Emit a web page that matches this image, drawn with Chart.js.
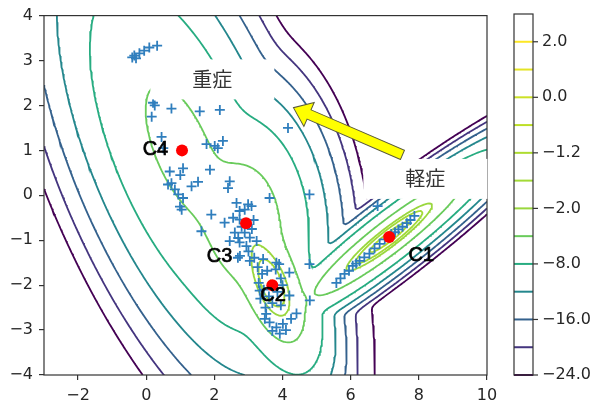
<!DOCTYPE html>
<html>
<head>
<meta charset="utf-8">
<script src="https://cdn.jsdelivr.net/npm/chart.js@4.4.1/dist/chart.umd.min.js"></script>
<style>
  html, body { margin: 0; padding: 0; background: #fff; }
</style>
</head>
<body>
<canvas id="c" width="596" height="402"></canvas>
<script>
// ===== samples (blue crosses)
const ptX = [
  -0.41, -0.35, -0.30, -0.20, -0.06, 0.09, 0.32, 0.20, 0.25, 0.16, 0.74, 1.57, 2.16, 4.16, 0.45, 0.50, 1.77, 2.01,
  2.25, 2.10, 0.69, 1.08, 1.00, 1.87, 0.74, 0.64, 0.84, 1.33, 1.52, 0.94, 1.08, 1.04, 0.99, 2.45, 2.40,
  1.91, 1.62, 2.30, 2.65, 2.74, 2.89, 3.09, 2.99, 2.55, 2.74, 2.60, 2.89, 3.04, 3.24, 2.45, 2.74, 2.94, 2.69,
  3.04, 3.43, 3.62, 4.79, 3.82, 4.79, 2.80, 3.10, 2.70, 3.00, 3.15,
  2.75, 3.17, 3.27, 3.40, 3.55, 3.80, 3.90, 3.95, 4.20, 3.30, 3.45, 3.60, 3.85, 4.00, 3.35, 3.70, 3.50, 3.95,
  4.20, 4.41, 4.80, 3.52, 3.62, 3.82, 4.01, 3.92, 3.70, 4.10, 4.25, 3.48, 3.33,
  5.58, 5.70, 5.82, 5.95, 6.06, 6.16, 6.26, 6.40, 6.55, 6.70, 6.85, 7.00, 7.19, 7.30, 7.40, 7.52, 7.65, 7.75,
  7.87, 6.79
];
const ptY = [
  3.07, 3.11, 3.05, 3.16, 3.22, 3.29, 3.33, 2.06, 2.00, 1.75, 1.93, 1.87, 1.90, 1.50, 1.30, 1.05, 1.14, 1.10,
  1.21, 1.05, 0.53, 0.60, 0.45, 0.57, 0.27, 0.24, 0.13, 0.20, 0.30, 0.02, -0.06, -0.32, -0.25, 0.31, 0.16,
  -0.43, -0.80, -0.61, -0.17, -0.35, -0.32, -0.24, -0.20, -0.50, -0.54, -0.83, -0.83, -0.94, -1.02, -1.02, -1.05, -1.13, -1.39,
  -1.46, -1.42, -0.06, 0.02, -1.50, -1.53, -0.70, -0.75, -0.95, -1.25, -0.55,
  -1.35, -1.39, -1.60, -1.75, -1.68, -1.65, -1.53, -1.85, -1.72, -1.95, -2.10, -2.25, -2.15, -2.00, -2.30, -2.40, -2.50, -2.45,
  -2.23, -2.63, -2.34, -2.64, -2.83, -2.94, -2.86, -3.08, -3.02, -3.00, -2.75, -2.75, -2.12,
  -1.95, -1.85, -1.75, -1.68, -1.57, -1.52, -1.46, -1.38, -1.30, -1.18, -1.08, -0.98, -0.86, -0.82, -0.76, -0.70, -0.62, -0.55,
  -0.46, -0.24
];

// ===== cluster centres (red dots) and their labels
const centreNames = ['C1', 'C2', 'C3', 'C4'];
const centreX = [7.13, 3.70, 2.93, 1.05];
const centreY = [-0.93, -2.00, -0.62, 1.00];
const labelX = [8.07, 3.72, 2.15, 0.27];
const labelY = [-1.35, -2.23, -1.36, 1.03];

// ===== mixture components behind the contour lines
const compW   = [0.38, 0.35, 0.22, 0.20];
const compMx  = [7.13, 3.70, 2.93, 1.05];
const compMy  = [-0.93, -2.00, -0.62, 1.00];
const compSxx = [0.786, 0.16, 0.3025, 0.772];
const compSxy = [0.439, -0.108, -0.0385, -0.648];
const compSyy = [0.279, 0.2916, 0.49, 1.44];

// contour levels and ticks
const levels = [-24, -20, -16, -12, -8, -4, -2, -1.6, -1.2, -0.6, 0, 1, 2];
const cbTicks = [2, 0, -1.2, -2, -8, -16, -24];
const xTicks = [-2, 0, 2, 4, 6, 8, 10];
const yTicks = [-4, -3, -2, -1, 0, 1, 2, 3, 4];

// annotations
const noteText = ['重症', '軽症'];
const noteX = [1.94, 8.19];
const noteY = [2.58, 0.365];
const arrowFrom = [7.52, 0.90];
const arrowTo = [4.32, 1.95];

//viridis
const viridisStops = ['#440154', '#482475', '#414487', '#355f8d', '#2a788e', '#21918c',
  '#22a884', '#44bf70', '#7ad151', '#bddf26', '#fde725'];
const hexRgb = (h) => [1, 3, 5].map(i => parseInt(h.substr(i, 2), 16));
const viridis = (t) => {
    t = Math.min(1, Math.max(0, t));
    const f = t * 10, i = Math.min(9, Math.floor(f)), r = f - i;
    const a = hexRgb(viridisStops[i]), b = hexRgb(viridisStops[i + 1]);
    return 'rgb(' + a.map((v, k) => Math.round(v + (b[k] - v) * r)).join(',') + ')';
}
const levelColor = (L) => viridis((L - levels[0]) / (levels[levels.length - 1] - levels[0]));

// log density of the mixture (log-sum-exp)
const logDensity = (x, y) => {
    const terms = compW.map((w, k) => {
        const dx = x - compMx[k], dy = y - compMy[k];
        const det = compSxx[k] * compSyy[k] - compSxy[k] * compSxy[k];
        const q = (compSyy[k] * dx * dx - 2 * compSxy[k] * dx * dy + compSxx[k] * dy * dy) / det;
        return Math.log(w) - Math.log(2 * Math.PI * Math.sqrt(det)) - 0.5 * q;
    });
    const m = Math.max(...terms);
    return m + Math.log(terms.reduce((s, t) => s + Math.exp(t - m), 0));
}

// grid
const nx = 261, ny = 161;
const gxs = [], gys = [];
for (let i = 0; i < nx; i++) gxs.push(-3 + 13 * i / (nx - 1));
for (let j = 0; j < ny; j++) gys.push(-4 + 8 * j / (ny - 1));
const grid = gys.map(y => gxs.map(x => logDensity(x, y)));

// marching squares + chaining into polylines
const traceLevel = (L) => {
    const segs = [];
    const cut = (id, x0, y0, x1, y1, v0, v1) => {
        const t = (L - v0) / (v1 - v0);
        return { id, x: x0 + (x1 - x0) * t, y: y0 + (y1 - y0) * t };
    };
    for (let j = 0; j < ny - 1; j++) {
        for (let i = 0; i < nx - 1; i++) {
            const a = grid[j][i], b = grid[j][i + 1], c = grid[j + 1][i + 1], d = grid[j + 1][i];
            const x0 = gxs[i], x1 = gxs[i + 1], y0 = gys[j], y1 = gys[j + 1];
            const bot = (a > L) !== (b > L) ? cut('h' + i + ',' + j, x0, y0, x1, y0, a, b) : null;
            const rgt = (b > L) !== (c > L) ? cut('v' + (i + 1) + ',' + j, x1, y0, x1, y1, b, c) : null;
            const top = (d > L) !== (c > L) ? cut('h' + i + ',' + (j + 1), x0, y1, x1, y1, d, c) : null;
            const lft = (a > L) !== (d > L) ? cut('v' + i + ',' + j, x0, y0, x0, y1, a, d) : null;
            const e = [bot, rgt, top, lft].filter(Boolean);
            if (e.length === 2) {
                segs.push([e[0], e[1]]);
            } else if (e.length === 4) {
                const centre = (a + b + c + d) / 4;
                if ((centre > L) === (a > L)) {
                    segs.push([bot, rgt], [top, lft]);
                } else {
                    segs.push([bot, lft], [rgt, top]);
                }
            }
        }
    }
    const byEdge = new Map();
    segs.forEach((s, k) => {
        s.forEach(p => {
            if (!byEdge.has(p.id)) byEdge.set(p.id, []);
            byEdge.get(p.id).push(k);
        });
    });
    const used = new Uint8Array(segs.length);
    const grow = (chain) => {
        while (true) {
            const last = chain[chain.length - 1];
            const k = (byEdge.get(last.id) || []).find(n => !used[n]);
            if (k === undefined) break;
            used[k] = 1;
            const s = segs[k];
            chain.push(s[0].id === last.id ? s[1] : s[0]);
        }
    };
    const chains = [];
    for (let k = 0; k < segs.length; k++) {
        if (used[k]) continue;
        used[k] = 1;
        let chain = [segs[k][0], segs[k][1]];
        grow(chain);
        chain.reverse();
        grow(chain);
        chains.push(chain.map(p => ({ x: p.x, y: p.y })));
    }
    return chains;
}

const datasets = [];
levels.forEach(L => {
    traceLevel(L).forEach(line => {
        datasets.push({
            data: line,
            showLine: true,
            pointRadius: 0,
            borderColor: levelColor(L),
            borderWidth: 1.8,
            tension: 0,
            order: 3
        });
    });
});
datasets.push({
    data: ptX.map((x, i) => ({ x: x, y: ptY[i] })),
    pointStyle: 'cross',
    pointRadius: 5,
    borderColor: '#2f7ebd',
    borderWidth: 1.8,
    order: 2
});
datasets.push({
    data: centreX.map((x, i) => ({ x: x, y: centreY[i] })),
    pointStyle: 'circle',
    pointRadius: 6,
    backgroundColor: '#ff0000',
    borderWidth: 0,
    order: 1
});

const minus = (s) => s.replace('-', '\u2212');
const tickFont = { family: 'DejaVu Sans', size: 16 };

// frame, labels, boxes, arrow and colorbar
const decor = {
    id: 'decor',
    afterDatasetsDraw(chart) {
        const { ctx, chartArea: a, scales } = chart;
        const px = (v) => scales.x.getPixelForValue(v), py = (v) => scales.y.getPixelForValue(v);
        ctx.save();
        ctx.strokeStyle = '#333';
        ctx.lineWidth = 1.2;
        ctx.strokeRect(a.left, a.top, a.right - a.left, a.bottom - a.top);
        // centre labels
        ctx.fillStyle = '#000';
        ctx.strokeStyle = '#000';
        ctx.lineWidth = 0.7;
        ctx.font = '20px "Liberation Sans", Arial, sans-serif';
        ctx.textAlign = 'center';
        ctx.textBaseline = 'middle';
        centreNames.forEach((n, i) => {
            ctx.fillText(n, px(labelX[i]), py(labelY[i]));
            ctx.strokeText(n, px(labelX[i]), py(labelY[i]));
        });
        // white boxes with the japanese notes
        noteText.forEach((t, i) => {
            const cx = px(noteX[i]), cy = py(noteY[i]);
            ctx.fillStyle = '#fff';
            ctx.fillRect(cx - 62, cy - 20, 124, 40);
            ctx.fillStyle = '#333';
            ctx.font = '20px "Noto Sans CJK JP", sans-serif';
            ctx.fillText(t, cx, cy);
        });
        // yellow arrow
        const x0 = px(arrowFrom[0]), y0 = py(arrowFrom[1]), x1 = px(arrowTo[0]), y1 = py(arrowTo[1]);
        const len = Math.hypot(x1 - x0, y1 - y0);
        ctx.translate(x0, y0);
        ctx.rotate(Math.atan2(y1 - y0, x1 - x0));
        ctx.beginPath();
        ctx.moveTo(0, -5);
        ctx.lineTo(len - 17, -5);
        ctx.lineTo(len - 17, -13);
        ctx.lineTo(len, 0);
        ctx.lineTo(len - 17, 13);
        ctx.lineTo(len - 17, 5);
        ctx.lineTo(0, 5);
        ctx.closePath();
        ctx.fillStyle = '#ffff00';
        ctx.fill();
        ctx.strokeStyle = '#5a5a3a';
        ctx.lineWidth = 1;
        ctx.stroke();
        ctx.restore();
    },
    afterDraw(chart) {
        const ctx = chart.ctx;
        const left = 514, right = 533, top = 14, bottom = 375;
        const step = (bottom - top) / levels.length;
        ctx.save();
        levels.forEach((L, i) => {
            const y = bottom - step * i;
            ctx.strokeStyle = levelColor(L);
            ctx.lineWidth = 2;
            ctx.beginPath();
            ctx.moveTo(left, y);
            ctx.lineTo(right, y);
            ctx.stroke();
            if (cbTicks.includes(L)) {
                ctx.strokeStyle = '#333';
                ctx.lineWidth = 1.2;
                ctx.beginPath();
                ctx.moveTo(right, y);
                ctx.lineTo(right + 5, y);
                ctx.stroke();
                ctx.fillStyle = '#262626';
                ctx.font = '16px "DejaVu Sans"';
                ctx.textAlign = 'left';
                ctx.textBaseline = 'middle';
                ctx.fillText(minus(L.toFixed(1)), right + 9, y);
            }
        });
        ctx.strokeStyle = '#333';
        ctx.lineWidth = 1.2;
        ctx.strokeRect(left, top, right - left, bottom - top);
        ctx.restore();
    }
};

new Chart(document.getElementById('c'), {
    type: 'scatter',
    data: { datasets: datasets },
    options: {
        responsive: false,
        animation: false,
        events: [],
        layout: { padding: { top: 14, right: 109, left: 0, bottom: 0 } },
        plugins: { legend: { display: false }, tooltip: { enabled: false } },
        scales: {
            x: {
                type: 'linear', min: -3, max: 10,
                afterBuildTicks: (s) => { s.ticks = xTicks.map(v => ({ value: v })); },
                afterFit: (s) => { s.height = 27; },
                grid: { drawOnChartArea: false, drawTicks: true, tickLength: 5, color: '#333', lineWidth: 1.2 },
                border: { display: false },
                ticks: { font: tickFont, color: '#262626', padding: 6, callback: (v) => minus(String(v)) }
            },
            y: {
                type: 'linear', min: -4, max: 4,
                afterBuildTicks: (s) => { s.ticks = yTicks.map(v => ({ value: v })); },
                afterFit: (s) => { s.width = 44; },
                grid: { drawOnChartArea: false, drawTicks: true, tickLength: 5, color: '#333', lineWidth: 1.2 },
                border: { display: false },
                ticks: { font: tickFont, color: '#262626', padding: 6, callback: (v) => minus(String(v)) }
            }
        }
    },
    plugins: [decor]
});
</script>
</body>
</html>
